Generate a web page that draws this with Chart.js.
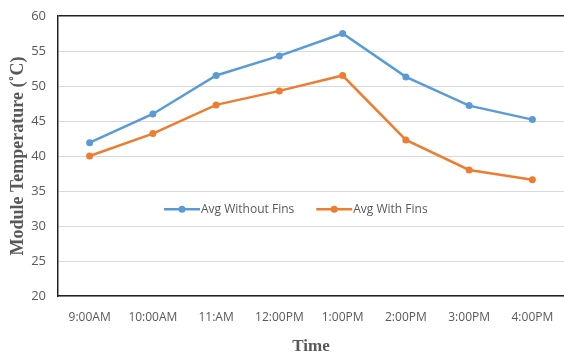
<!DOCTYPE html>
<html>
<head>
<meta charset="utf-8">
<script src="https://cdn.jsdelivr.net/npm/chart.js@4/dist/chart.umd.min.js"></script>
<style>
  html, body { margin: 0; padding: 0; background: #fff; }
  #wrap { width: 564px; height: 357px; }
</style>
</head>
<body>
<div id="wrap"><canvas id="chart"></canvas></div>
<script>
const times = ["9:00AM", "10:00AM", "11:AM", "12:00PM", "1:00PM", "2:00PM", "3:00PM", "4:00PM"];
const withoutFins = [41.9, 46.0, 51.5, 54.3, 57.5, 51.3, 47.2, 45.2];
const withFins = [40.0, 43.2, 47.3, 49.3, 51.5, 42.3, 38.0, 36.6];
const seriesNames = ["Avg Without Fins", "Avg With Fins"];
const blue = "#5b9bd5";
const orange = "#ed7d31";

// legend drawn inside the plot, like the original
const innerLegend = {
    id: "innerLegend",
    afterDatasetsDraw(chart) {
        const ctx = chart.ctx;
        const area = chart.chartArea;
        const y = area.top + 0.69 * (area.bottom - area.top);
        ctx.save();
        ctx.font = "12px 'Open Sans'";
        ctx.textBaseline = "middle";
        const sample = 36, gap = 1, between = 22;
        const widths = chart.data.datasets.map(d => ctx.measureText(d.label).width);
        let x = 164;
        chart.data.datasets.forEach((d, i) => {
            ctx.strokeStyle = d.borderColor;
            ctx.lineWidth = 2.5;
            ctx.beginPath();
            ctx.moveTo(x, y);
            ctx.lineTo(x + sample, y);
            ctx.stroke();
            ctx.fillStyle = d.borderColor;
            ctx.beginPath();
            ctx.arc(x + sample / 2, y, 3.5, 0, Math.PI * 2);
            ctx.fill();
            ctx.fillStyle = "#595959";
            ctx.fillText(d.label, x + sample + gap, y);
            x += sample + gap + widths[i] + between;
        });
        ctx.restore();
    }
};

new Chart(document.getElementById("chart"), {
    type: "line",
    data: {
        labels: times,
        datasets: [
            { label: seriesNames[0], data: withoutFins, borderColor: blue, backgroundColor: blue },
            { label: seriesNames[1], data: withFins, borderColor: orange, backgroundColor: orange }
        ]
    },
    options: {
        responsive: true,
        maintainAspectRatio: false,
        animation: false,
        layout: { autoPadding: false, padding: { top: 16, right: 0, left: 0, bottom: 0 } },
        elements: {
            line: { borderWidth: 2.5, tension: 0 },
            point: { radius: 3.5, borderWidth: 0, hoverRadius: 4 }
        },
        plugins: {
            legend: { display: false },
            tooltip: { enabled: false }
        },
        scales: {
            x: {
                offset: true,
                grid: { display: false },
                border: { display: true, color: "#222", width: 1.5 },
                ticks: { color: "#595959", font: { family: "Open Sans", size: 12 }, padding: 6, maxRotation: 0, autoSkip: false },
                title: {
                    display: true, text: "Time", color: "#595959",
                    font: { family: "Liberation Serif", size: 17, weight: "bold" },
                    padding: { top: 14, bottom: 0 }
                },
                afterFit(s) { s.height = 61; s.paddingLeft = 0; s.paddingRight = 0; }
            },
            y: {
                min: 20,
                max: 60,
                ticks: { stepSize: 5, color: "#595959", font: { family: "Open Sans", size: 13 }, padding: 12 },
                grid: {
                    drawTicks: false,
                    color: c => c.tick.value === 60 ? "#222" : "#d9d9d9",
                    lineWidth: c => c.tick.value === 60 ? 1.5 : 1
                },
                border: { display: true, color: "#222", width: 1.5 },
                title: {
                    display: true, text: "Module Temperature (˚C)", color: "#595959",
                    font: { family: "Liberation Serif", size: 18, weight: "bold" },
                    padding: { top: 8, bottom: 0 }
                },
                afterFit(s) { s.width = 58; s.paddingTop = 0; s.paddingBottom = 0; }
            }
        }
    },
    plugins: [innerLegend]
});
</script>
</body>
</html>
